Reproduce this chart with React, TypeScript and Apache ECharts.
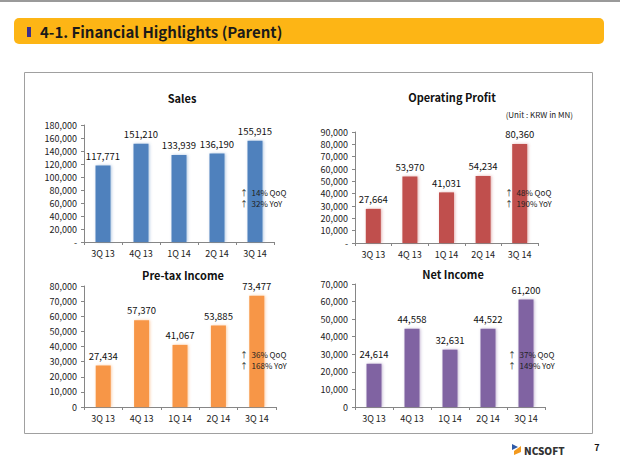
import React, { useEffect, useRef } from "react";
import * as echarts from "echarts";

const quarters = ["3Q 13", "4Q 13", "1Q 14", "2Q 14", "3Q 14"];
const sales = [117771, 151210, 133939, 136190, 155915];
const operatingProfit = [27664, 53970, 41031, 54234, 80360];
const pretaxIncome = [27434, 57370, 41067, 53885, 73477];
const netIncome = [24614, 44558, 32631, 44522, 61200];

const chartTitles = ["Sales", "Operating Profit", "Pre-tax Income", "Net Income"];
const yMax = [180000, 90000, 80000, 70000];
const yStep = [20000, 10000, 10000, 10000];
const zeroLabels = ["-", "-", "0", "0"];
const qoq = ["14%", "48%", "36%", "37%"];
const yoy = ["32%", "190%", "168%", "149%"];
const pageTitle = "4-1. Financial Highlights (Parent)";
const unitNote = "(Unit : KRW in MN)";

const FONT = "'Noto Sans CJK KR', 'Noto Sans', sans-serif";

export default function App() {
  const ref = useRef<HTMLDivElement>(null);
  useEffect(() => {
    if (!ref.current) return;
    const chart = echarts.init(ref.current, undefined, { renderer: "svg" });

    const seriesData = [sales, operatingProfit, pretaxIncome, netIncome];
    const colors = ["#4F81BD", "#C0504D", "#F79646", "#8064A2"];
    const shadows = [
      "rgba(79,129,189,0.45)",
      "rgba(192,80,77,0.45)",
      "rgba(247,150,70,0.45)",
      "rgba(128,100,162,0.45)",
    ];
    const grids = [
      { left: 84, top: 125, width: 190, height: 117 },
      { left: 355, top: 132, width: 183, height: 111 },
      { left: 84, top: 286, width: 192, height: 121 },
      { left: 355, top: 284, width: 190, height: 123 },
    ];
    const titlePos = [
      [182, 98],
      [452, 97],
      [183, 275],
      [453, 274],
    ];
    const notePos = [
      [240, 197],
      [505, 197],
      [240, 359],
      [508, 359],
    ];

    const axisColor = "#868686";

    const graphic: any[] = [
      { type: "line", shape: { x1: 0, y1: 1, x2: 620, y2: 1 }, style: { stroke: "#9a9a9a", lineWidth: 2 } },
      { type: "rect", shape: { x: 14, y: 18, width: 590, height: 26, r: 5 }, style: { fill: "#FDB515" } },
      { type: "rect", shape: { x: 27, y: 27, width: 4, height: 10 }, style: { fill: "#3B2E8C" } },
      {
        type: "text",
        x: 40,
        y: 31,
        style: { text: pageTitle, textVerticalAlign: "middle", fill: "#1a1a1a", font: `bold 15px ${FONT}` },
      },
      { type: "rect", shape: { x: 24.5, y: 72.5, width: 568, height: 361 }, style: { fill: "none", stroke: "#a0a0a0", lineWidth: 1 } },
      {
        type: "text",
        x: 573,
        y: 114,
        style: { text: unitNote, textAlign: "right", textVerticalAlign: "middle", fill: "#222", font: `8px ${FONT}` },
      },
      {
        type: "text",
        x: 597,
        y: 447,
        style: { text: "7", textAlign: "center", textVerticalAlign: "middle", fill: "#111", font: `bold 9px ${FONT}` },
      },
      { type: "polygon", shape: { points: [[512, 444], [518, 447], [512, 450]] }, style: { fill: "#2E5AA8" } },
      { type: "polygon", shape: { points: [[514, 451], [521, 446], [521, 452], [514, 455]] }, style: { fill: "#F39A1E" } },
      {
        type: "text",
        x: 524,
        y: 450,
        style: { text: "NCSOFT", textVerticalAlign: "middle", fill: "#333", font: `900 10px ${FONT}` },
      },
    ];

    chartTitles.forEach((t, i) => {
      graphic.push({
        type: "text",
        x: titlePos[i][0],
        y: titlePos[i][1],
        style: { text: t, textAlign: "center", textVerticalAlign: "middle", fill: "#111", font: `bold 11px ${FONT}` },
      });
      graphic.push({
        type: "text",
        z: 50,
        x: notePos[i][0],
        y: notePos[i][1] - 5,
        style: { text: `↑  ${qoq[i]} QoQ`, textVerticalAlign: "middle", fill: "#222", font: `8px ${FONT}` },
      });
      graphic.push({
        type: "text",
        z: 50,
        x: notePos[i][0],
        y: notePos[i][1] + 6,
        style: { text: `↑  ${yoy[i]} YoY`, textVerticalAlign: "middle", fill: "#222", font: `8px ${FONT}` },
      });
    });

    const option: any = {
      animation: false,
      backgroundColor: "#ffffff",
      grid: grids,
      xAxis: grids.map((_, i) => ({
        type: "category",
        gridIndex: i,
        data: quarters,
        axisLine: { lineStyle: { color: axisColor } },
        axisTick: { show: true, length: 3, lineStyle: { color: axisColor } },
        axisLabel: { color: "#222", fontSize: 9, fontFamily: FONT, margin: 7 },
      })),
      yAxis: grids.map((_, i) => ({
        type: "value",
        gridIndex: i,
        min: 0,
        max: yMax[i],
        interval: yStep[i],
        axisLine: { show: true, lineStyle: { color: axisColor } },
        axisTick: { show: true, length: 3, lineStyle: { color: axisColor } },
        splitLine: { show: false },
        axisLabel: {
          color: "#222",
          fontSize: 9,
          fontFamily: FONT,
          margin: 7,
          formatter: (v: number) => (v === 0 ? zeroLabels[i] : v.toLocaleString("en-US")),
        },
      })),
      series: seriesData.map((d, i) => ({
        type: "bar",
        xAxisIndex: i,
        yAxisIndex: i,
        data: d,
        barWidth: 15,
        z: 2,
        itemStyle: {
          color: colors[i],
          shadowColor: shadows[i],
          shadowBlur: 3,
          shadowOffsetX: 1,
        },
        label: {
          show: true,
          position: "top",
          distance: 5,
          color: "#111",
          fontSize: 9.5,
          fontFamily: FONT,
          formatter: (p: any) => Number(p.value).toLocaleString("en-US"),
        },
      })),
      graphic,
    };

    chart.setOption(option);
    return () => chart.dispose();
  }, []);

  return (
    <div
      ref={ref}
      style={{ position: "fixed", left: 0, top: 0, width: 620, height: 466, background: "#fff" }}
    />
  );
}
